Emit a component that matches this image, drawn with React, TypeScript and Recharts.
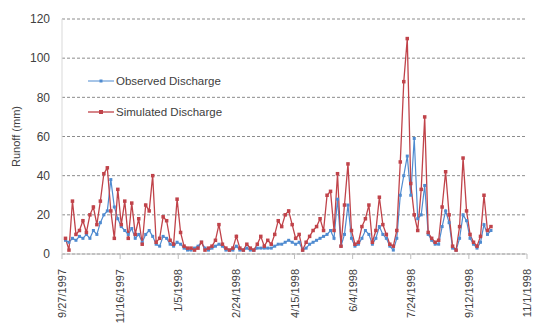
import { LineChart, Line, XAxis, YAxis, CartesianGrid } from "recharts";

// days counted from 9/27/1997, one reading every 3 days
const firstDay = 3;
const stepDays = 3;

const observed = [
  7, 6, 8, 7, 9, 8, 10, 8, 12, 10, 16, 20, 22, 38, 24, 18, 14, 12, 10, 13,
  8, 10, 6, 10, 12, 9, 5, 4, 9, 8, 5, 4, 6, 5, 3, 2, 2, 3, 4, 6,
  3, 2, 3, 4, 5, 4, 2, 2, 2, 4, 2, 2, 3, 2, 2, 3, 3, 3, 3, 3,
  4, 5, 5, 6, 7, 6, 5, 6, 2, 3, 5, 6, 7, 8, 9, 10, 12, 8, 28, 4,
  10, 25, 8, 4, 5, 8, 12, 10, 5, 8, 14, 10, 8, 4, 2, 8, 30, 40, 50, 30,
  59, 18, 20, 35, 10, 7, 5, 5, 14, 22, 16, 3, 2, 8, 20, 17, 8, 5, 3, 6,
  15, 10, 12,
];

const simulated = [
  8, 2, 27, 10, 12, 17, 11, 20, 24, 15, 27, 41, 44, 22, 8, 33, 15, 27, 8, 26,
  10, 18, 5, 25, 22, 40, 6, 8, 19, 17, 7, 5, 28, 11, 4, 3, 3, 2, 3, 6,
  2, 3, 4, 7, 15, 5, 3, 2, 3, 9, 3, 2, 5, 3, 2, 5, 9, 4, 7, 5,
  10, 17, 14, 20, 22, 15, 8, 10, 2, 6, 9, 12, 14, 18, 12, 30, 32, 12, 41, 4,
  25, 46, 12, 5, 6, 14, 18, 25, 6, 12, 29, 15, 10, 5, 4, 12, 47, 88, 110, 36,
  20, 12, 33, 70, 11, 8, 6, 7, 24, 42, 20, 4, 2, 14, 49, 22, 10, 6, 4, 9,
  30, 12, 14,
];

const xTicks = [0, 50, 100, 150, 200, 250, 300, 350, 400];
const xTickLabels = [
  "9/27/1997", "11/16/1997", "1/5/1998", "2/24/1998", "4/15/1998",
  "6/4/1998", "7/24/1998", "9/12/1998", "11/1/1998",
];
const yTicks = [0, 20, 40, 60, 80, 100, 120];

const data = observed.map((o, i) => ({
  day: firstDay + i * stepDays,
  observed: o,
  simulated: simulated[i],
}));

const BLUE = "#4f8bd0";
const RED = "#c0434a";
const FONT = "'Liberation Sans', Arial, sans-serif";

const XTick = ({ x, y, payload }: any) => {
  const i = xTicks.indexOf(payload.value);
  return (
    <text
      transform={`translate(${x + 4},${y + 8}) rotate(-90)`}
      textAnchor="end"
      fontSize={11}
      fontFamily={FONT}
      fill="#404040"
    >
      {xTickLabels[i]}
    </text>
  );
};

const squareDot = (color: string, size: number) => (props: any) => {
  const { cx, cy, key } = props;
  if (cx == null || cy == null) return <g key={key} />;
  return (
    <rect key={key} x={cx - size / 2} y={cy - size / 2} width={size} height={size} fill={color} />
  );
};

const LegendBox = () => (
  <svg width={150} height={50} style={{ position: "absolute", left: 88, top: 71 }}>
    <line x1={0} x2={26} y1={10} y2={10} stroke={BLUE} strokeWidth={1} />
    <rect x={11.5} y={8.5} width={3} height={3} fill={BLUE} />
    <text x={28} y={14} fontSize={11.5} fontFamily={FONT} fill="#404040">
      Observed Discharge
    </text>
    <line x1={0} x2={26} y1={41} y2={41} stroke={RED} strokeWidth={1.3} />
    <rect x={11} y={39} width={4} height={4} fill={RED} />
    <text x={28} y={45} fontSize={11.5} fontFamily={FONT} fill="#404040">
      Simulated Discharge
    </text>
  </svg>
);

export default function App() {
  return (
    <div style={{ position: "fixed", left: 0, top: 0, width: 533, height: 329, background: "#fff" }}>
      <LineChart width={533} height={329} data={data} margin={{ top: 19, right: 6, bottom: 5, left: 12 }}>
        <CartesianGrid vertical={false} stroke="#8c8c8c" strokeDasharray="3 2" />
        <XAxis
          dataKey="day"
          type="number"
          domain={[0, 400]}
          ticks={xTicks}
          interval={0}
          height={70}
          tick={<XTick />}
          stroke="#bfbfbf"
          tickSize={5}
        />
        <YAxis
          domain={[0, 120]}
          ticks={yTicks}
          width={50}
          tickLine={false}
          stroke="#d9d9d9"
          tickMargin={6}
          tick={{ fontSize: 12, fontFamily: FONT, fill: "#404040" }}
          label={{
            content: ({ viewBox }: any) => (
              <text
                transform={`translate(20,${viewBox.y + viewBox.height / 2}) rotate(-90)`}
                textAnchor="middle"
                fontSize={11}
                fontFamily={FONT}
                fill="#404040"
              >
                Runoff (mm)
              </text>
            ),
          }}
        />
        <Line
          dataKey="observed"
          type="linear"
          stroke={BLUE}
          strokeWidth={1.2}
          dot={squareDot(BLUE, 3)}
          isAnimationActive={false}
        />
        <Line
          dataKey="simulated"
          type="linear"
          stroke={RED}
          strokeWidth={1.3}
          dot={squareDot(RED, 3.5)}
          isAnimationActive={false}
        />
      </LineChart>
      <LegendBox />
    </div>
  );
}
